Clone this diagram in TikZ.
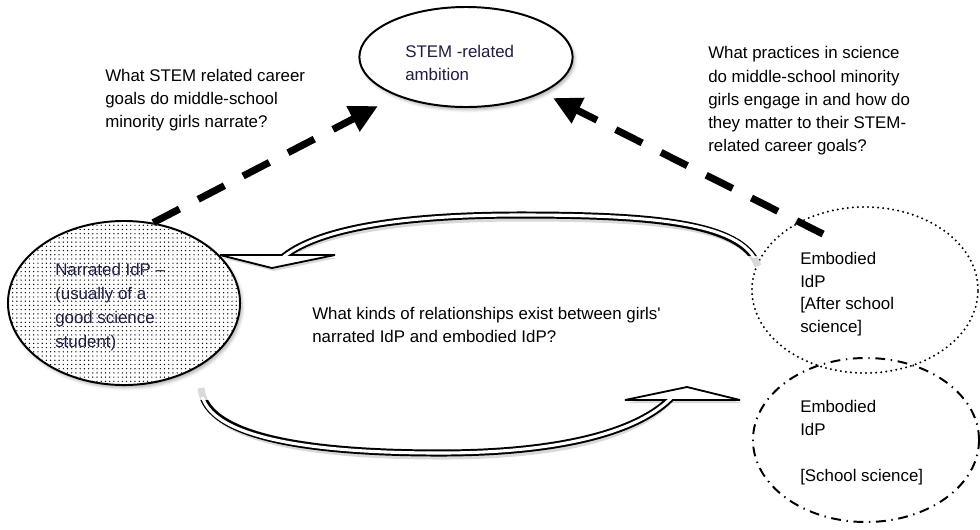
\documentclass[tikz,border=0pt]{standalone}
\usepackage{fontspec}
\setmainfont{Liberation Sans}
\usetikzlibrary{arrows.meta,shapes.geometric,patterns,shadows.blur}
\definecolor{labelnavy}{RGB}{30,30,70}

\begin{document}
\begin{tikzpicture}[x=0.025cm, y=-0.025cm,
        question/.style={anchor=west, align=left, inner sep=0pt, font=\fontsize{12}{16.5}\selectfont},
        idpbubble/.style={ellipse, inner sep=0pt, line width=1.4pt},
        bubbleshadow/.style={blur shadow={shadow xshift=1.5pt, shadow yshift=-2pt, shadow opacity=30}},
        goalarrow/.style={line width=5pt, dash pattern=on 21pt off 15pt, -{Triangle[length=20pt, width=19pt]}},
        hollowhead/.style={fill=white, draw=black, line width=1.3pt, line join=miter, miter limit=3},
        shaftout/.style={line width=5pt},
        shaftin/.style={line width=2.2pt, white}]
        \useasboundingbox (0,0) rectangle (980,529);

        \node[idpbubble, minimum width=5.8cm, minimum height=4.1cm, bubbleshadow, preaction={fill=white}, pattern=dots, draw] (narr) at (124,303) {};
        \node[idpbubble, minimum width=5.33cm, minimum height=2.5cm, bubbleshadow, fill=white, draw] (stem) at (466,57) {};
        \node[idpbubble, draw, line width=1.6pt, dash pattern=on 0pt off 3.6pt, line cap=round, minimum width=5.65cm, minimum height=4.15cm] (after) at (865,290) {};
        \node[idpbubble, draw, dash pattern=on 7pt off 4pt on 1pt off 4pt, minimum width=5.65cm, minimum height=4.1cm] (school) at (866,440) {};

        \node[question, text=labelnavy, font=\fontsize{12}{17}\selectfont] (narrtext) at (55,307) {Narrated IdP –\\(usually of a\\good science\\student)};
        \node[question, text=labelnavy] (stemtext) at (405,63) {STEM -related\\ambition};
        \node[question] (qstem) at (105,100) {What STEM related career\\goals do middle-school\\minority girls narrate?};
        \node[question] (qpractice) at (708,101) {What practices in science\\do middle-school minority\\girls engage in and how do\\they matter to their STEM-\\related career goals?};
        \node[question] (qrel) at (312,325) {What kinds of relationships exist between girls\textquotesingle\\narrated IdP and embodied IdP?};
        \node[question, font=\fontsize{12}{16}\selectfont] (aftertext) at (800,294) {Embodied\\IdP\\{}[After school\\science]};
        \node[question, font=\fontsize{12}{16.3}\selectfont] (schooltext) at (800,443) {Embodied\\IdP\\~\\{}[School science]};

        \coordinate (stemL) at (378,106);
        \coordinate (stemR) at (553,98);
        \coordinate (afterdash) at (823,234);
        \coordinate (toptail) at (758,266);
        \coordinate (tophead) at (281,259);
        \coordinate (bottail) at (201,388);
        \coordinate (bothead) at (673,396);

        \begin{scope}[shift={(2,3)}, black!15]
            \draw[goalarrow] (narr.70) -- (stemL);
            \draw[goalarrow] (afterdash) -- (stemR);
            \fill (220,255) -- (272,268) -- (335,255) -- cycle;
            \fill (625,400) -- (687,387) -- (740,400) -- cycle;
            \draw[shaftout] (toptail) .. controls (742,222) and (650,215) .. (520,215) .. controls (400,215) and (315,229) .. (tophead);
            \draw[shaftout] (bottail) .. controls (205,442) and (330,453) .. (440,453) .. controls (560,453) and (640,432) .. (bothead);
        \end{scope}

        \draw[goalarrow] (narr.70) -- (stemL);
        \draw[goalarrow] (afterdash) -- (stemR);

        \filldraw[hollowhead] (220,255) -- (272,268) -- (335,255) -- cycle;
        \begin{scope}
            \clip (0,0) rectangle (980,255);
            \draw[shaftout] (toptail) .. controls (742,222) and (650,215) .. (520,215) .. controls (400,215) and (315,229) .. (tophead);
        \end{scope}
        \begin{scope}
            \clip (0,0) rectangle (980,257.5);
            \draw[shaftin, shorten <=1.5pt] (toptail) .. controls (742,222) and (650,215) .. (520,215) .. controls (400,215) and (315,229) .. (tophead);
        \end{scope}

        \filldraw[hollowhead] (625,400) -- (687,387) -- (740,400) -- cycle;
        \begin{scope}
            \clip (0,400) rectangle (980,529);
            \draw[shaftout] (bottail) .. controls (205,442) and (330,453) .. (440,453) .. controls (560,453) and (640,432) .. (bothead);
        \end{scope}
        \begin{scope}
            \clip (0,397.5) rectangle (980,529);
            \draw[shaftin, shorten <=1.5pt] (bottail) .. controls (205,442) and (330,453) .. (440,453) .. controls (560,453) and (640,432) .. (bothead);
        \end{scope}
    \end{tikzpicture}
\end{document}
